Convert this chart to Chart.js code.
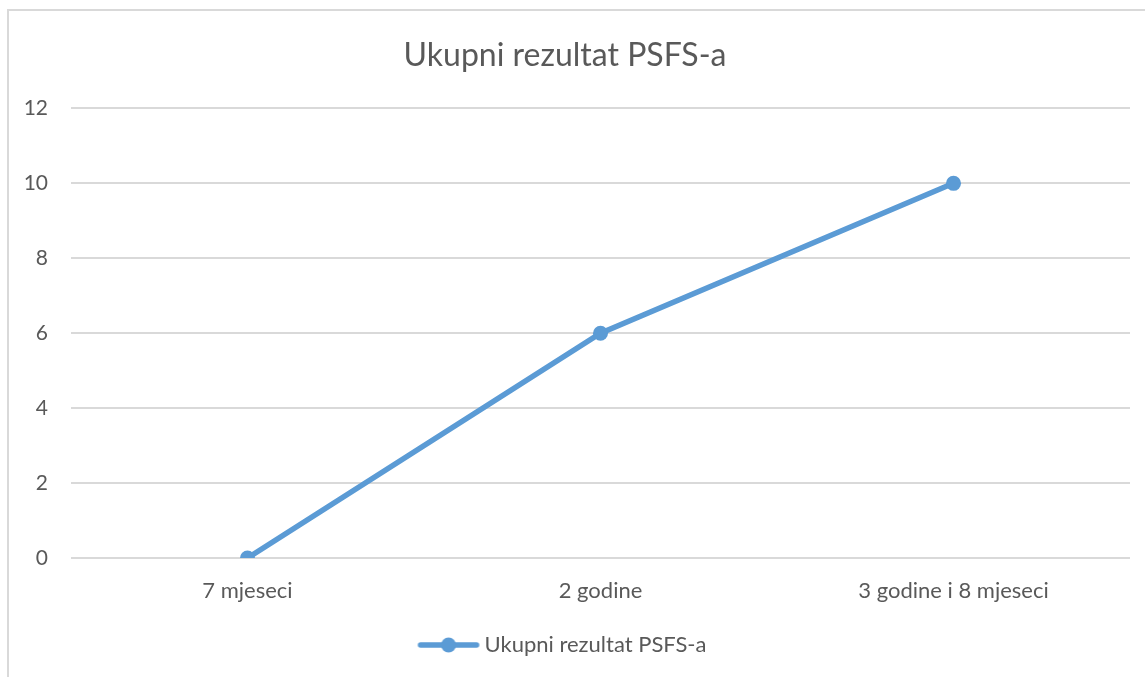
<!DOCTYPE html>
<html>
<head>
<meta charset="utf-8">
<title>Ukupni rezultat PSFS-a</title>
<script src="https://cdn.jsdelivr.net/npm/chart.js@4/dist/chart.umd.min.js"></script>
<style>
  html, body { margin: 0; padding: 0; background: #fff; }
  #wrap { position: relative; width: 1145px; height: 677px; }
  #frame { position: absolute; left: 7px; top: 9px; width: 1145px; height: 677px;
           border-left: 2px solid #d9d9d9; border-top: 2px solid #d9d9d9; box-sizing: border-box; }
  canvas { position: absolute; left: 0; top: 0; }
</style>
</head>
<body>
<div id="wrap">
  <div id="frame"></div>
  <canvas id="psfsChart" width="1145" height="677"></canvas>
</div>
<script>
// podaci s grafikona
const kategorije = ['7 mjeseci', '2 godine', '3 godine i 8 mjeseci'];
const rezultati = [0, 6, 10];
const nazivSerije = 'Ukupni rezultat PSFS-a';
const naslov = 'Ukupni rezultat PSFS-a';

const plava = '#5b9bd5';
const siva = '#595959';
const font = 'Lato, Calibri, Carlito, sans-serif';

// ikona legende: linija s tockom u sredini (malo sira od okvira da tekst bude blize)
function legendIcon() {
    const c = document.createElement('canvas');
    c.width = 64; c.height = 18;
    const g = c.getContext('2d');
    g.strokeStyle = plava;
    g.lineWidth = 5.5;
    g.lineCap = 'round';
    g.beginPath();
    g.moveTo(4, 9); g.lineTo(60, 9);
    g.stroke();
    g.fillStyle = plava;
    g.beginPath();
    g.arc(32, 9, 7.5, 0, Math.PI * 2);
    g.fill();
    return c;
}

const ctx = document.getElementById('psfsChart').getContext('2d');

new Chart(ctx, {
    type: 'line',
    data: {
        labels: kategorije,
        datasets: [{
            label: nazivSerije,
            data: rezultati,
            borderColor: plava,
            backgroundColor: plava,
            borderWidth: 5.5,
            pointStyle: 'circle',
            pointRadius: 7.5,
            pointBackgroundColor: plava,
            pointBorderWidth: 0,
            tension: 0
        }]
    },
    options: {
        responsive: false,
        animation: false,
        layout: { padding: { left: 0, right: 15, top: 0, bottom: 11 } },
        scales: {
            x: {
                offset: true,
                grid: { display: false, drawTicks: false },
                border: { display: false },
                ticks: { color: siva, font: { family: font, size: 22 }, padding: 20, maxRotation: 0 },
                afterFit: function(axis) { axis.height = 66; }
            },
            y: {
                min: 0,
                max: 12,
                ticks: { stepSize: 2, color: siva, font: { family: font, size: 21 }, padding: 23 },
                grid: { color: '#d9d9d9', lineWidth: 2, drawTicks: false },
                border: { display: false },
                afterFit: function(axis) { axis.width = 71; }
            }
        },
        plugins: {
            title: {
                display: true,
                text: naslov,
                color: siva,
                font: { family: font, size: 32, weight: 'normal' },
                padding: { top: 36, bottom: 34 }
            },
            legend: {
                position: 'bottom',
                labels: {
                    usePointStyle: true,
                    pointStyleWidth: 50,
                    color: siva,
                    font: { family: font, size: 22 },
                    padding: 10,
                    generateLabels: function(chart) {
                        return [{
                            text: nazivSerije,
                            fillStyle: plava,
                            strokeStyle: plava,
                            lineWidth: 0,
                            pointStyle: legendIcon(),
                            datasetIndex: 0,
                            fontColor: siva
                        }];
                    }
                }
            },
            tooltip: { enabled: false }
        }
    }
});
</script>
</body>
</html>
